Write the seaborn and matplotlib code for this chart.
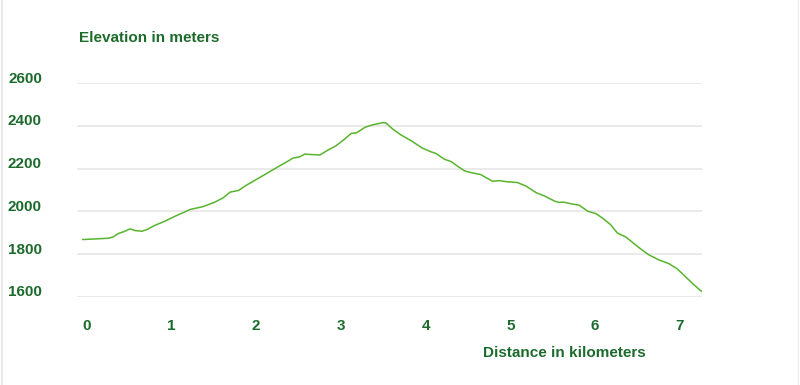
import matplotlib
matplotlib.use("Agg")
import matplotlib.pyplot as plt
import matplotlib.transforms as mtransforms
from matplotlib.lines import Line2D
import seaborn as sns
import pandas as pd

# elevation profile
DISTANCE_KM = [
    0.00, 0.15, 0.30, 0.36, 0.42, 0.50, 0.56, 0.62, 0.70, 0.76,
    0.85, 0.97, 1.09, 1.21, 1.27, 1.42, 1.56, 1.66, 1.74, 1.84,
    1.93, 2.01, 2.17, 2.29, 2.41, 2.48, 2.56, 2.62, 2.70, 2.80,
    2.90, 2.99, 3.09, 3.17, 3.23, 3.33, 3.41, 3.48, 3.54, 3.58,
    3.66, 3.76, 3.88, 4.01, 4.11, 4.17, 4.27, 4.35, 4.43, 4.51,
    4.58, 4.70, 4.76, 4.84, 4.92, 5.00, 5.13, 5.23, 5.35, 5.45,
    5.57, 5.62, 5.68, 5.78, 5.86, 5.96, 6.06, 6.13, 6.23, 6.31,
    6.41, 6.57, 6.68, 6.80, 6.92, 7.02, 7.12, 7.21, 7.29, 7.31,
]
ELEVATION_M = [
    1868, 1871, 1874, 1880, 1896, 1907, 1918, 1910, 1907, 1915,
    1934, 1954, 1977, 1998, 2009, 2022, 2043, 2064, 2090, 2098,
    2122, 2140, 2177, 2205, 2232, 2249, 2255, 2268, 2266, 2264,
    2288, 2307, 2338, 2365, 2367, 2393, 2404, 2410, 2415, 2414,
    2385, 2357, 2330, 2296, 2279, 2271, 2244, 2233, 2210, 2189,
    2182, 2172, 2158, 2141, 2144, 2139, 2135, 2119, 2088, 2072,
    2048, 2042, 2043, 2034, 2029, 2001, 1989, 1970, 1938, 1899,
    1880, 1829, 1797, 1773, 1755, 1730, 1692, 1658, 1630, 1625,
]
X_TICKS = [0, 1, 2, 3, 4, 5, 6, 7]
Y_TICKS = [1600, 1800, 2000, 2200, 2400, 2600]

TEXT_GREEN = "#1d6b2c"
LINE_GREEN = "#58b42c"

sns.set_style("white")
plt.rcParams["font.family"] = ["Liberation Sans", "DejaVu Sans"]

df = pd.DataFrame({"km": DISTANCE_KM, "elev": ELEVATION_M})

fig = plt.figure(figsize=(8, 3.85), dpi=100)
ax = fig.add_axes([0.0959, 0.2286, 0.7816, 0.5558])

sns.lineplot(data=df, x="km", y="elev", ax=ax, color=LINE_GREEN, linewidth=1.1)

ax.set_xlim(-0.07, 7.31)
ax.set_ylim(1599, 2601)
ax.set_xticks(X_TICKS)
ax.set_yticks(Y_TICKS)
ax.grid(axis="y", color="#e6e6e6", linewidth=1.2)
ax.grid(axis="x", visible=False)
for s in ax.spines.values():
    s.set_visible(False)
ax.set_xlabel("")
ax.set_ylabel("")
ax.tick_params(axis="both", length=0, labelsize=11, labelcolor=TEXT_GREEN)
ax.tick_params(axis="y", pad=25)
ax.tick_params(axis="x", pad=16)
for lab in ax.get_yticklabels() + ax.get_xticklabels():
    lab.set_fontweight("bold")

# labels sit a little off the grid positions
up = mtransforms.ScaledTranslation(0, 6 / 100, fig.dpi_scale_trans)
right = mtransforms.ScaledTranslation(4 / 100, 0, fig.dpi_scale_trans)
for lab in ax.get_yticklabels():
    lab.set_transform(lab.get_transform() + up)
for lab in ax.get_xticklabels():
    lab.set_transform(lab.get_transform() + right)

ax.text(0.004, 1.21, "Elevation in meters", transform=ax.transAxes,
        ha="left", va="center", fontsize=11, fontweight="bold", color=TEXT_GREEN)
ax.text(0.650, -0.262, "Distance in kilometers", transform=ax.transAxes,
        ha="left", va="center", fontsize=11, fontweight="bold", color=TEXT_GREEN)

# faint frame lines at the edges of the image
fig.add_artist(Line2D([0.002, 0.002], [0, 1], color="#e8e8e8", linewidth=1.5))
fig.add_artist(Line2D([0.997, 0.997], [0, 1], color="#eeeeee", linewidth=1.0))

fig.savefig("out.png", dpi=100)
